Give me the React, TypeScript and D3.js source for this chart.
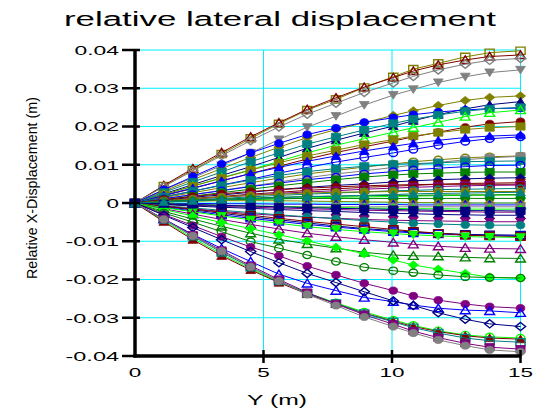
import React from "react";
import * as d3 from "d3";

// Node positions along Y (m)
const X_POS = [0, 1.12, 2.25, 3.37, 4.5, 5.6, 6.7, 7.82, 8.92, 10.05, 10.83, 11.8, 12.85, 13.8, 15];

// Relative X-displacement of each series, in millimetres (converted to metres when drawn)
const SERIES_MM: number[][] = [
  [0, 4.4, 8.6, 12.8, 16.9, 20.7, 24.3, 27.1, 30.2, 33.0, 35.0, 36.5, 38.2, 39.3, 39.8],
  [0, 4.6, 9.0, 13.2, 17.3, 21.0, 24.5, 27.5, 30.3, 32.8, 34.5, 36.1, 37.4, 38.3, 38.7],
  [0, 4.3, 8.4, 12.4, 16.3, 19.9, 23.2, 26.1, 28.9, 31.4, 33.1, 34.8, 36.3, 37.3, 37.8],
  [0, 3.4, 6.6, 9.8, 13.1, 16.6, 19.8, 22.7, 25.6, 28.2, 29.7, 31.5, 33.0, 34.1, 34.8],
  [0, 3.1, 6.1, 9.0, 11.9, 14.6, 17.1, 19.2, 21.0, 22.9, 24.1, 25.5, 26.8, 27.6, 28.0],
  [0, 2.4, 4.8, 7.2, 9.5, 11.9, 14.3, 16.4, 18.3, 20.1, 21.5, 23.1, 24.6, 25.7, 26.5],
  [0, 3.5, 6.9, 10.2, 13.1, 15.6, 17.9, 19.6, 21.1, 22.3, 23.1, 23.8, 24.3, 24.7, 24.8],
  [0, 2.8, 5.5, 8.1, 10.8, 13.1, 15.4, 17.3, 19.1, 20.8, 21.9, 23.0, 24.0, 24.6, 25.0],
  [0, 2.2, 4.4, 6.6, 8.7, 10.9, 13.1, 15.1, 16.8, 18.5, 19.7, 21.1, 22.6, 23.6, 24.3],
  [0, 1.9, 3.8, 5.8, 7.7, 9.6, 11.5, 13.2, 14.7, 16.2, 17.3, 18.5, 19.8, 20.7, 21.3],
  [0, 2.2, 4.4, 6.5, 8.6, 10.5, 12.3, 13.8, 15.3, 16.6, 17.5, 18.4, 19.2, 19.7, 20.0],
  [0, 2.0, 3.9, 5.8, 7.7, 9.3, 10.9, 12.3, 13.6, 14.8, 15.6, 16.4, 17.1, 17.5, 17.8],
  [0, 1.6, 3.1, 4.7, 6.2, 7.8, 9.3, 10.7, 11.9, 13.1, 14.0, 15.1, 16.1, 16.8, 17.3],
  [0, 1.4, 2.7, 4.0, 5.3, 6.5, 7.6, 8.5, 9.4, 10.2, 10.8, 11.3, 11.8, 12.1, 12.3],
  [0, 1.1, 2.2, 3.3, 4.4, 5.5, 6.6, 7.6, 8.4, 9.3, 9.9, 10.6, 11.3, 11.8, 12.2],
  [0, 1.6, 3.1, 4.6, 6.0, 7.2, 8.2, 9.0, 9.6, 10.1, 10.3, 10.5, 10.8, 10.9, 11.0],
  [0, 1.1, 2.2, 3.2, 4.3, 5.2, 6.1, 6.8, 7.6, 8.2, 8.7, 9.1, 9.5, 9.8, 9.9],
  [0, 0.9, 1.8, 2.7, 3.6, 4.5, 5.3, 6.1, 6.8, 7.3, 7.6, 7.8, 8.0, 8.1, 8.1],
  [0, 0.7, 1.5, 2.1, 2.8, 3.5, 4.1, 4.6, 5.0, 5.5, 5.8, 6.1, 6.3, 6.5, 6.6],
  [0, 0.6, 1.2, 1.7, 2.3, 2.8, 3.3, 3.7, 4.1, 4.4, 4.6, 4.9, 5.1, 5.2, 5.3],
  [0, 0.9, 1.7, 2.4, 3.0, 3.5, 3.9, 4.2, 4.5, 4.7, 4.8, 4.9, 4.9, 4.9, 4.9],
  [0, 0.5, 1.0, 1.5, 2.0, 2.5, 2.9, 3.2, 3.6, 3.9, 4.1, 4.3, 4.5, 4.6, 4.7],
  [0, 0.4, 0.8, 1.2, 1.6, 2.0, 2.3, 2.6, 2.9, 3.2, 3.3, 3.5, 3.6, 3.7, 3.8],
  [0, 0.6, 1.1, 1.6, 2.0, 2.3, 2.6, 2.8, 2.9, 3.0, 3.0, 3.0, 3.0, 3.0, 3.0],
  [0, 0.2, 0.5, 0.7, 0.9, 1.1, 1.3, 1.5, 1.6, 1.7, 1.8, 1.9, 2.0, 2.1, 2.1],
  [0, 0.3, 0.6, 0.8, 1.0, 1.1, 1.2, 1.2, 1.2, 1.2, 1.2, 1.2, 1.2, 1.2, 1.2],
  [0, 0.3, 0.5, 0.6, 0.6, 0.6, 0.5, 0.4, 0.3, 0.2, 0.1, 0.1, 0.0, 0.0, 0.0],
  [0, -0.1, -0.1, -0.2, -0.2, -0.3, -0.3, -0.4, -0.4, -0.4, -0.5, -0.5, -0.5, -0.5, -0.5],
  [0, -0.3, -0.5, -0.7, -0.8, -0.9, -1.0, -1.0, -1.0, -1.0, -1.0, -1.0, -1.0, -1.0, -1.0],
  [0, -0.2, -0.4, -0.6, -0.8, -0.9, -1.1, -1.2, -1.3, -1.4, -1.5, -1.5, -1.6, -1.6, -1.6],
  [0, -0.3, -0.6, -0.9, -1.1, -1.3, -1.5, -1.7, -1.9, -2.0, -2.1, -2.2, -2.3, -2.4, -2.4],
  [0, -0.4, -0.8, -1.1, -1.4, -1.7, -2.0, -2.2, -2.5, -2.7, -2.8, -3.0, -3.1, -3.2, -3.2],
  [0, -0.8, -1.5, -2.2, -2.8, -3.3, -3.7, -4.0, -4.3, -4.5, -4.6, -4.7, -4.8, -4.9, -4.9],
  [0, -0.7, -1.3, -1.9, -2.5, -3.1, -3.6, -4.1, -4.6, -5.0, -5.3, -5.5, -5.7, -5.8, -5.8],
  [0, -0.9, -1.8, -2.7, -3.6, -4.4, -5.2, -6.0, -6.7, -7.2, -7.6, -7.9, -8.2, -8.3, -8.4],
  [0, -1.1, -2.1, -3.1, -4.0, -4.8, -5.6, -6.3, -6.9, -7.5, -7.8, -8.1, -8.4, -8.5, -8.6],
  [0, -0.8, -1.6, -2.4, -3.2, -4.0, -4.8, -5.5, -6.2, -6.9, -7.4, -7.9, -8.4, -8.6, -8.8],
  [0, -1.2, -2.3, -3.4, -4.4, -5.3, -6.2, -6.9, -7.5, -8.0, -8.3, -8.6, -8.8, -8.9, -9.0],
  [0, -1.5, -2.9, -4.3, -5.6, -6.8, -7.9, -8.8, -9.6, -10.3, -10.8, -11.3, -11.7, -11.9, -12.0],
  [0, -2.2, -4.2, -6.1, -7.9, -9.5, -10.7, -11.8, -12.9, -13.6, -13.8, -13.9, -14.2, -14.4, -14.5],
  [0, -1.7, -3.4, -5.1, -6.7, -8.3, -9.9, -11.6, -13.3, -14.9, -16.2, -17.3, -18.4, -19.4, -19.7],
  [0, -2.6, -5.0, -7.5, -10.1, -11.8, -13.6, -15.3, -16.8, -17.7, -18.2, -18.8, -19.3, -19.5, -19.6],
  [0, -3.0, -5.9, -8.8, -11.5, -13.8, -16.5, -18.8, -21.0, -22.9, -24.3, -25.4, -26.4, -27.1, -27.5],
  [0, -4.2, -8.2, -11.9, -15.3, -18.6, -21.0, -22.9, -24.7, -25.8, -26.7, -27.5, -28.0, -28.2, -28.7],
  [0, -3.2, -6.4, -9.6, -12.7, -15.6, -18.4, -20.8, -23.2, -25.6, -26.8, -28.7, -30.4, -31.6, -32.3],
  [0, -4.6, -9.2, -13.4, -17.2, -20.6, -23.5, -26.1, -28.5, -30.6, -32.0, -33.4, -34.5, -35.0, -35.3],
  [0, -4.9, -9.6, -13.8, -17.5, -20.8, -23.8, -26.3, -28.8, -30.9, -32.3, -33.6, -34.7, -35.3, -35.6],
  [0, -4.3, -8.7, -12.9, -16.8, -20.4, -23.6, -26.3, -28.9, -31.1, -32.6, -34.0, -35.3, -36.0, -36.4],
  [0, -4.2, -8.4, -12.4, -16.4, -20.0, -23.4, -26.4, -29.2, -31.7, -33.5, -35.2, -36.7, -37.7, -38.2],
  [0, -4.3, -8.6, -12.6, -16.7, -20.4, -23.9, -26.8, -29.8, -32.3, -34.0, -35.8, -37.3, -38.4, -38.9],
  [0, 0.4, 0.7, 1.0, 1.3, 1.5, 1.7, 1.8, 1.9, 2.0, 2.0, 2.1, 2.1, 2.1, 2.2],
  [0, -0.2, -0.4, -0.6, -0.8, -1.0, -1.2, -1.4, -1.5, -1.7, -1.8, -1.9, -2.0, -2.0, -2.1],
  [0, 0.3, 0.6, 0.9, 1.1, 1.4, 1.6, 1.8, 2.0, 2.2, 2.4, 2.5, 2.6, 2.7, 2.8],
];

const SERIES_COLORS = [
  "olive", "maroon", "grey", "grey", "olive", "navy", "blue", "teal", "lime", "maroon",
  "olive", "blue", "blue", "olive", "grey", "teal", "blue", "green", "navy", "maroon",
  "maroon", "purple", "teal", "olive", "lime", "green", "olive", "blue", "grey", "lime",
  "purple", "navy", "purple", "teal", "navy", "blue", "maroon", "lime", "purple", "green",
  "lime", "green", "purple", "blue", "navy", "lime", "maroon", "teal", "purple", "grey",
  "green", "navy", "teal",
];

// marker: sq / ci / tu / td / di, suffix "o" = open
const SERIES_MARKERS = [
  "sqo", "tuo", "dio", "td", "di", "tu", "ci", "sq", "tuo", "ci",
  "sq", "tu", "cio", "cio", "sq", "sq", "cio", "sq", "di", "td",
  "ci", "sqo", "cio", "ci", "tu", "ci", "di", "tuo", "sq", "di",
  "ci", "tu", "td", "ci", "sqo", "sqo", "sqo", "td", "tuo", "tuo",
  "di", "cio", "ci", "tuo", "dio", "cio", "tu", "sqo", "sq", "ci",
  "tu", "sq", "tu",
];

const Y_TICKS = [0.04, 0.03, 0.02, 0.01, 0, -0.01, -0.02, -0.03, -0.04];
const Y_TICK_LABELS = ["0.04", "0.03", "0.02", "0.01", "0", "-0.01", "-0.02", "-0.03", "-0.04"];
const X_TICKS = [0, 5, 10, 15];
const X_TICK_LABELS = ["0", "5", "10", "15"];
const X_GRID = [5, 10, 15];

const PALETTE: Record<string, string> = {
  olive: "#808000",
  maroon: "#800000",
  grey: "#808080",
  navy: "#000080",
  blue: "#0000ff",
  lime: "#00ff00",
  green: "#008000",
  teal: "#008080",
  purple: "#800080",
};

const W = 538;
const H = 411;
const FONT = "'Liberation Sans', Arial, sans-serif";

function labelWidth(s: string) {
  let w = 0;
  for (const ch of s) {
    if (ch === ".") w += 7;
    else if (ch === "-") w += 9;
    else w += 12.5;
  }
  return w;
}

function markerPath(kind: string, cx: number, cy: number) {
  const hw = 4.6;
  const hh = 3.6;
  const base = kind.replace("o", "");
  switch (base) {
    case "sq":
      return `M${cx - hw},${cy - hh}H${cx + hw}V${cy + hh}H${cx - hw}Z`;
    case "tu":
      return `M${cx},${cy - hh - 0.5}L${cx + hw + 0.3},${cy + hh}L${cx - hw - 0.3},${cy + hh}Z`;
    case "td":
      return `M${cx},${cy + hh + 0.5}L${cx + hw + 0.3},${cy - hh}L${cx - hw - 0.3},${cy - hh}Z`;
    case "di":
      return `M${cx},${cy - hh - 0.5}L${cx + hw + 0.5},${cy}L${cx},${cy + hh + 0.5}L${cx - hw - 0.5},${cy}Z`;
    default: {
      const rx = hw - 0.3;
      const ry = hh;
      return `M${cx - rx},${cy}A${rx},${ry} 0 1,0 ${cx + rx},${cy}A${rx},${ry} 0 1,0 ${cx - rx},${cy}Z`;
    }
  }
}

export default function App() {
  const x = d3.scaleLinear().domain([0, 15]).range([135, 520.5]);
  const y = d3.scaleLinear().domain([-0.04, 0.04]).range([356, 50]);
  const line = d3
    .line<[number, number]>()
    .x((d) => x(d[0]))
    .y((d) => y(d[1]));

  const gridColor = "#00f0ff";

  return (
    <svg
      width={W}
      height={H}
      style={{ position: "absolute", left: 0, top: 0, background: "#fff" }}
      fontFamily={FONT}
    >
      <rect width={W} height={H} fill="#fff" />
      {/* title */}
      <text x={64} y={26} fontSize={19.5} textLength={432} lengthAdjust="spacingAndGlyphs" fill="#000">
        relative lateral displacement
      </text>

      {/* grid */}
      {Y_TICKS.filter((t) => t > -0.04).map((t) => (
        <line key={"gy" + t} x1={x(0)} x2={x(15)} y1={y(t)} y2={y(t)} stroke={gridColor} strokeWidth={1} />
      ))}
      {X_GRID.map((t) => (
        <line key={"gx" + t} x1={x(t)} x2={x(t)} y1={y(0.04)} y2={y(-0.04)} stroke={gridColor} strokeWidth={1} />
      ))}

      {/* series */}
      {SERIES_MM.map((vals, i) => {
        const color = PALETTE[SERIES_COLORS[i]];
        const pts: [number, number][] = vals.map((v, j) => [X_POS[j], v / 1000]);
        const kind = SERIES_MARKERS[i];
        const open = kind.endsWith("o");
        return (
          <g key={"s" + i}>
            <path d={line(pts) || ""} fill="none" stroke={color} strokeWidth={1} />
            {pts.map((p, j) => (
              <path
                key={j}
                d={markerPath(kind, x(p[0]), y(p[1]))}
                fill={open ? "#fff" : color}
                fillOpacity={open ? 0 : 1}
                stroke={color}
                strokeWidth={open ? 1.4 : 0.8}
              />
            ))}
          </g>
        );
      })}

      {/* axes */}
      <line x1={x(0)} x2={x(0)} y1={y(0.04) - 1} y2={y(-0.04) + 1.5} stroke="#000" strokeWidth={3.5} />
      <line x1={x(0) - 1.5} x2={x(15) + 1} y1={y(-0.04)} y2={y(-0.04)} stroke="#000" strokeWidth={3.5} />
      {Y_TICKS.map((t, i) => (
        <g key={"yt" + t}>
          <line x1={122} x2={140} y1={y(t)} y2={y(t)} stroke="#000" strokeWidth={2.5} />
          <text
            x={119}
            y={y(t) + 4.8}
            fontSize={13}
            textAnchor="end"
            textLength={labelWidth(Y_TICK_LABELS[i])}
            lengthAdjust="spacingAndGlyphs"
            fill="#000"
          >
            {Y_TICK_LABELS[i]}
          </text>
        </g>
      ))}
      {X_TICKS.map((t, i) => (
        <g key={"xt" + t}>
          {t > 0 && <line x1={x(t)} x2={x(t)} y1={350} y2={363} stroke="#000" strokeWidth={2.5} />}
          <text
            x={x(t)}
            y={377}
            fontSize={13.5}
            textAnchor="middle"
            textLength={labelWidth(X_TICK_LABELS[i])}
            lengthAdjust="spacingAndGlyphs"
            fill="#000"
          >
            {X_TICK_LABELS[i]}
          </text>
        </g>
      ))}

      {/* axis labels */}
      <text x={277} y={405} fontSize={14.5} textAnchor="middle" textLength={60} lengthAdjust="spacingAndGlyphs" fill="#000">
        Y (m)
      </text>
      <text
        transform="translate(37,188) rotate(-90)"
        fontSize={14.5}
        textAnchor="middle"
        textLength={182}
        lengthAdjust="spacingAndGlyphs"
        fill="#000"
      >
        Relative X-Displacement (m)
      </text>
    </svg>
  );
}
